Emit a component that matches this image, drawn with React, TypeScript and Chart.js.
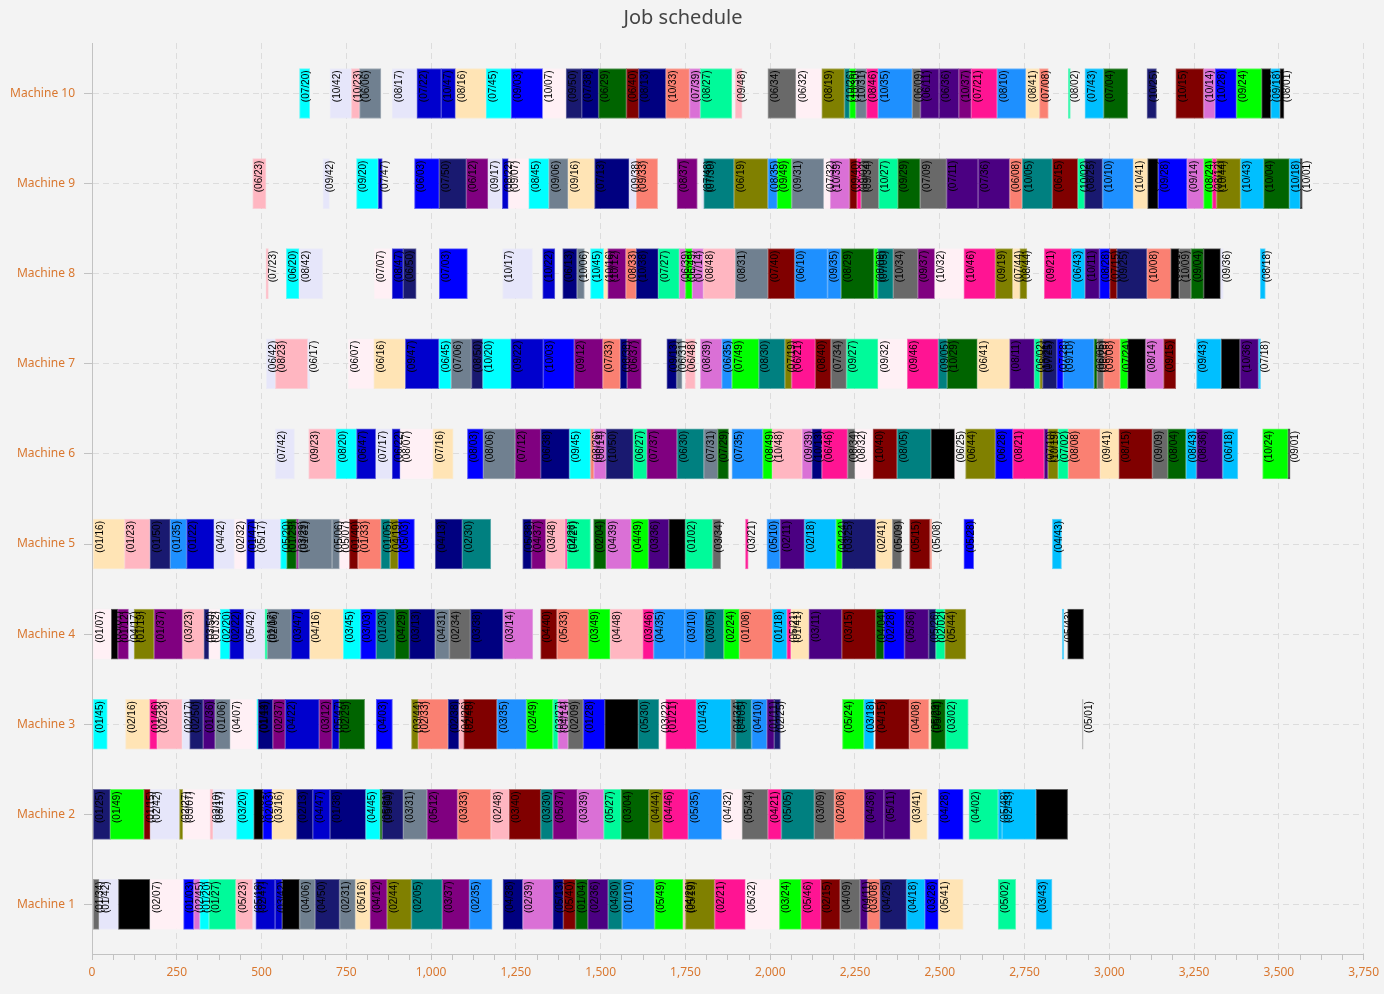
import React, { useEffect, useRef } from "react";
import { Chart, registerables } from "chart.js";
Chart.register(...registerables);

type Seg = [number, number, string];

const machineNames = ["Machine 1","Machine 2","Machine 3","Machine 4","Machine 5","Machine 6","Machine 7","Machine 8","Machine 9","Machine 10"];
const xMin = 0;
const xMax = 3750;
const xMajorStep = 250;
const xMinorStep = 62.5;

const PALETTE: Record<string, string> = {
  CY: "#00FFFF", LV: "#E6E6FA", LP: "#FFB6C1", SG: "#708090", MB: "#0000CD", BL: "#0000FF",
  MO: "#FFE4B5", LB: "#FFF0F5", MN: "#191970", NV: "#000080", DG: "#006400", MR: "#800000",
  SA: "#FA8072", OR: "#DA70D6", MS: "#00FA9A", DI: "#696969", OL: "#808000", TE: "#008080",
  LI: "#00FF00", DP: "#FF1493", DB: "#1E90FF", IN: "#4B0082", PU: "#800080", DS: "#00BFFF",
  BK: "#000000", GR: "#A9A9A9",
};

const m10: Seg[] = [
  [612,642,"(07/20)"],[702,765,"(10/42)"],[765,789,"(10/23)"],[789,852,"(06/06)"],[885,958,"(08/17)"],
  [958,1030,"(07/22)"],[1030,1072,"(10/47)"],[1072,1162,"(08/16)"],[1162,1236,"(07/45)"],[1236,1329,"(09/03)"],
  [1329,1398,"(10/07)"],[1398,1444,"(09/50)"],[1444,1494,"(07/38)"],[1494,1576,"(06/29)"],[1576,1612,"(06/40)"],
  [1612,1692,"(08/13)"],[1692,1762,"(10/33)"],[1762,1794,"(07/39)"],[1794,1887,"(08/27)"],[1897,1917,"(09/48)"],
  [1993,2076,"(06/34)"],[2076,2152,"(06/32)"],[2152,2219,"(08/19)"],[2219,2234,"(10/26)"],[2234,2252,"(10/30)"],
  [2252,2284,"(10/31)"],[2284,2318,"(08/46)"],[2318,2419,"(10/35)"],[2419,2443,"(06/09)"],[2443,2498,"(06/11)"],
  [2498,2556,"(06/36)"],[2556,2593,"(10/37)"],[2593,2669,"(07/21)"],[2669,2754,"(08/10)"],[2754,2794,"(08/41)"],
  [2794,2820,"(07/08)"],[2879,2885,"(08/02)"],[2928,2983,"(07/43)"],[2983,3054,"(07/04)"],[3111,3139,"(10/25)"],
  [3196,3278,"(10/15)"],[3278,3312,"(10/14)"],[3312,3375,"(10/28)"],[3375,3449,"(09/24)"],[3449,3476,"(09/26)"],
  [3476,3503,"(09/18)"],[3503,3515,"(08/01)"],
];
const m10Colors = ["CY","LV","LP","SG","LV","MB","MB","MO","CY","BL","LB","MN","NV","DG","MR","NV","SA","OR","MS","LP",
  "DI","LB","OL","TE","LI","SG","DP","DB","DI","IN","IN","PU","DP","DB","MO","SA","MS","DS","DG","MN",
  "MR","OR","BL","LI","BK","DS","BK"];

const m9: Seg[] = [
  [474,513,"(06/23)"],[681,700,"(09/42)"],[780,844,"(09/20)"],[844,856,"(07/47)"],[951,1024,"(06/03)"],
  [1024,1104,"(07/50)"],[1104,1168,"(06/12)"],[1168,1210,"(09/17)"],[1210,1228,"(08/22)"],[1228,1288,"(09/07)"],
  [1288,1347,"(08/45)"],[1347,1404,"(09/06)"],[1404,1482,"(09/16)"],[1482,1584,"(07/13)"],[1584,1605,"(09/38)"],
  [1605,1668,"(09/33)"],[1725,1785,"(08/37)"],[1798,1804,"(07/48)"],[1804,1893,"(07/30)"],[1893,1993,"(06/19)"],
  [1993,2021,"(08/35)"],[2021,2063,"(09/49)"],[2063,2158,"(09/31)"],[2158,2177,"(07/32)"],[2177,2234,"(10/39)"],
  [2234,2256,"(09/40)"],[2256,2268,"(09/02)"],[2268,2320,"(09/34)"],[2320,2376,"(10/27)"],[2376,2442,"(09/29)"],
  [2442,2520,"(07/09)"],[2520,2613,"(07/11)"],[2613,2706,"(07/36)"],[2706,2743,"(06/08)"],[2743,2832,"(10/05)"],
  [2832,2907,"(06/15)"],[2907,2927,"(10/02)"],[2927,2980,"(08/25)"],[2980,3071,"(10/10)"],[3071,3113,"(10/41)"],
  [3113,3144,"(09/44)"],[3144,3229,"(09/28)"],[3229,3278,"(09/14)"],[3278,3304,"(08/24)"],[3304,3316,"(08/12)"],
  [3316,3387,"(10/44)"],[3387,3455,"(10/43)"],[3455,3531,"(10/04)"],[3531,3563,"(10/18)"],[3563,3569,"(10/01)"],
];
const m9Colors = ["LP","LV","CY","MB","BL","MN","PU","LV","MB","LB","CY","SG","MO","NV","LV","SA","PU","LV","TE","OL",
  "DB","LI","SG","LB","OR","MR","DP","DI","MS","DG","DI","IN","IN","SA","TE","MR","MS","MN","DB","MO",
  "BK","BL","OR","LI","DP","OL","DS","DG","DS","BK"];

const m8: Seg[] = [
  [513,520,"(07/23)"],[573,611,"(06/20)"],[611,680,"(08/42)"],[832,885,"(07/07)"],[885,918,"(08/47)"],
  [918,956,"(06/50)"],[1024,1107,"(07/03)"],[1211,1299,"(10/17)"],[1329,1365,"(10/22)"],[1388,1430,"(06/13)"],
  [1430,1452,"(10/06)"],[1470,1509,"(10/45)"],[1509,1521,"(10/16)"],[1521,1574,"(10/12)"],[1574,1605,"(08/33)"],
  [1605,1670,"(10/38)"],[1670,1732,"(07/27)"],[1732,1750,"(06/39)"],[1750,1770,"(06/49)"],[1770,1803,"(07/14)"],
  [1803,1897,"(08/48)"],[1897,1993,"(08/31)"],[1993,2072,"(07/40)"],[2072,2169,"(06/10)"],[2169,2209,"(09/35)"],
  [2209,2306,"(08/29)"],[2306,2317,"(08/09)"],[2317,2363,"(07/05)"],[2363,2435,"(10/34)"],[2435,2485,"(09/37)"],
  [2485,2571,"(10/32)"],[2571,2664,"(10/46)"],[2664,2715,"(09/19)"],[2715,2736,"(07/44)"],[2736,2757,"(08/44)"],
  [2808,2888,"(09/21)"],[2888,2928,"(06/43)"],[2928,2971,"(10/11)"],[2971,3001,"(08/28)"],[3001,3022,"(07/15)"],
  [3022,3111,"(09/25)"],[3111,3181,"(10/08)"],[3181,3206,"(06/01)"],[3206,3241,"(10/09)"],[3241,3278,"(09/04)"],
  [3278,3328,"(07/01)"],[3328,3336,"(09/36)"],[3445,3460,"(08/18)"],
];
const m8Colors = ["LP","CY","LV","LB","MB","MN","BL","LV","MB","NV","SG","CY","MO","PU","SA","NV","MS","OR","LI","OR",
  "LP","SG","MR","DB","DB","DG","LI","TE","DI","PU","LB","DP","OL","MO","OL","DP","DS","IN","BL","MR",
  "MN","SA","BK","DI","DG","BK","LV","DS"];

const m7: Seg[] = [
  [514,541,"(06/42)"],[541,636,"(08/23)"],[636,642,"(06/17)"],[755,831,"(06/07)"],[831,924,"(06/16)"],
  [924,1023,"(09/47)"],[1023,1059,"(06/45)"],[1059,1119,"(07/06)"],[1119,1152,"(08/50)"],[1152,1235,"(10/20)"],
  [1235,1331,"(09/22)"],[1331,1422,"(10/03)"],[1422,1506,"(09/12)"],[1506,1558,"(07/33)"],[1558,1578,"(08/38)"],
  [1578,1620,"(06/37)"],[1695,1724,"(09/13)"],[1724,1740,"(06/31)"],[1750,1779,"(06/48)"],[1794,1857,"(08/39)"],
  [1857,1887,"(06/35)"],[1887,1966,"(07/49)"],[1966,2043,"(08/30)"],[2043,2063,"(07/19)"],[2063,2133,"(06/21)"],
  [2133,2179,"(08/40)"],[2179,2225,"(07/34)"],[2225,2318,"(09/27)"],[2318,2404,"(09/32)"],[2404,2496,"(09/46)"],
  [2496,2522,"(09/05)"],[2522,2611,"(10/29)"],[2611,2706,"(06/41)"],[2706,2779,"(08/11)"],[2779,2795,"(06/02)"],
  [2795,2803,"(10/21)"],[2803,2845,"(07/25)"],[2845,2864,"(07/28)"],[2864,2955,"(09/10)"],[2955,2964,"(06/05)"],
  [2964,2983,"(06/26)"],[2983,3032,"(09/08)"],[3032,3054,"(07/24)"],[3054,3107,"(07/46)"],[3107,3160,"(08/14)"],
  [3160,3196,"(09/15)"],[3257,3330,"(09/43)"],[3330,3385,"(10/49)"],[3385,3440,"(10/36)"],[3440,3446,"(07/18)"],
];
const m7Colors = ["LV","LP","LV","LB","MO","MB","CY","SG","MN","CY","MB","BL","PU","SA","NV","PU","NV","SG","LP","OR",
  "DB","LI","TE","OL","DP","MR","DI","MS","LB","DP","TE","DG","MO","IN","MS","OL","MN","BL","DB","DG",
  "DI","SA","LI","BK","OR","MR","DS","BK","IN","DS"];

const m6: Seg[] = [
  [541,597,"(07/42)"],[639,719,"(09/23)"],[719,780,"(08/20)"],[780,837,"(06/47)"],[837,885,"(07/17)"],
  [885,909,"(06/22)"],[909,1005,"(08/07)"],[1005,1065,"(07/16)"],[1107,1154,"(08/03)"],[1154,1248,"(08/06)"],
  [1248,1323,"(07/12)"],[1323,1408,"(06/38)"],[1408,1470,"(09/45)"],[1470,1480,"(08/26)"],[1480,1516,"(06/14)"],
  [1516,1596,"(10/50)"],[1596,1636,"(06/27)"],[1636,1725,"(07/37)"],[1725,1804,"(06/30)"],[1804,1845,"(07/31)"],
  [1845,1877,"(07/29)"],[1887,1978,"(07/35)"],[1978,2006,"(08/49)"],[2006,2094,"(10/48)"],[2094,2123,"(09/39)"],
  [2123,2152,"(10/13)"],[2152,2228,"(06/46)"],[2228,2250,"(08/34)"],[2250,2303,"(08/32)"],[2303,2374,"(10/40)"],
  [2374,2474,"(08/05)"],[2474,2544,"(09/30)"],[2544,2549,"(06/25)"],[2576,2664,"(06/44)"],[2664,2715,"(06/28)"],
  [2715,2808,"(08/21)"],[2808,2819,"(07/10)"],[2819,2849,"(10/19)"],[2849,2879,"(07/02)"],[2879,2973,"(08/08)"],
  [2973,3028,"(09/41)"],[3028,3127,"(08/15)"],[3127,3172,"(09/09)"],[3172,3226,"(08/04)"],[3226,3257,"(08/43)"],
  [3257,3334,"(08/36)"],[3334,3379,"(06/18)"],[3452,3527,"(10/24)"],[3527,3533,"(09/01)"],
];
const m6Colors = ["LV","LP","CY","MB","LV","MB","LB","MO","BL","SG","PU","NV","CY","SA","OR","MN","MS","PU","TE","SG",
  "DG","DB","LI","LP","OR","NV","DP","DI","LB","MR","TE","BK","LB","OL","BL","DP","IN","OL","MS","SA",
  "MO","MR","DI","DG","DS","IN","DS","LI","BK"];

const m5: Seg[] = [
  [4,96,"(01/16)"],[96,171,"(01/23)"],[171,231,"(01/50)"],[231,279,"(01/35)"],[279,360,"(01/22)"],
  [360,420,"(04/42)"],[420,456,"(02/32)"],[456,480,"(01/47)"],[480,556,"(05/17)"],[556,574,"(05/20)"],
  [574,603,"(01/29)"],[603,609,"(03/29)"],[609,708,"(01/31)"],[708,730,"(05/06)"],[730,759,"(05/07)"],
  [759,784,"(01/40)"],[784,852,"(01/33)"],[852,879,"(01/05)"],[879,903,"(04/19)"],[903,951,"(05/03)"],
  [1012,1092,"(04/13)"],[1092,1176,"(02/30)"],[1270,1296,"(05/38)"],[1296,1338,"(04/37)"],[1338,1396,"(03/48)"],
  [1396,1401,"(02/26)"],[1401,1470,"(04/27)"],[1479,1516,"(02/04)"],[1516,1590,"(04/39)"],[1590,1641,"(04/49)"],
  [1641,1701,"(03/36)"],[1701,1750,"(02/01)"],[1750,1830,"(01/02)"],[1830,1854,"(03/34)"],[1927,1935,"(03/21)"],
  [1990,2029,"(05/10)"],[2029,2101,"(02/11)"],[2101,2194,"(02/18)"],[2194,2212,"(04/24)"],[2212,2311,"(03/25)"],
  [2311,2360,"(02/41)"],[2360,2387,"(05/09)"],[2411,2471,"(05/15)"],[2471,2476,"(05/08)"],[2571,2600,"(05/28)"],
  [2832,2859,"(04/43)"],
];
const m5Colors = ["MO","LP","MN","DB","MB","LV","LB","MB","LV","CY","DG","PU","SG","SG","LB","MR","SA","TE","OL","BL",
  "NV","TE","NV","PU","LP","DP","MS","DG","OR","LI","IN","BK","MS","DI","DP","DB","IN","DS","LI","MN",
  "MO","DI","MR","SA","BL","DS"];

const m4: Seg[] = [
  [4,57,"(01/07)"],[57,76,"(03/01)"],[76,108,"(01/12)"],[108,124,"(04/17)"],[124,183,"(01/19)"],
  [183,267,"(01/37)"],[267,330,"(03/23)"],[330,345,"(03/50)"],[345,378,"(01/32)"],[378,406,"(02/20)"],
  [406,448,"(02/22)"],[448,510,"(05/42)"],[510,517,"(01/17)"],[517,588,"(02/06)"],[588,642,"(03/47)"],
  [642,741,"(04/16)"],[741,792,"(03/45)"],[792,838,"(03/03)"],[838,894,"(01/30)"],[894,936,"(04/29)"],
  [936,1012,"(03/13)"],[1012,1054,"(04/31)"],[1054,1116,"(02/34)"],[1116,1212,"(03/38)"],[1212,1300,"(03/14)"],
  [1323,1371,"(04/40)"],[1371,1464,"(05/33)"],[1464,1528,"(03/49)"],[1528,1624,"(04/48)"],[1624,1656,"(03/46)"],
  [1656,1748,"(04/35)"],[1748,1806,"(03/10)"],[1806,1863,"(03/05)"],[1863,1909,"(02/24)"],[1909,2006,"(01/08)"],
  [2006,2049,"(01/18)"],[2049,2061,"(05/21)"],[2061,2114,"(01/41)"],[2114,2211,"(03/11)"],[2211,2311,"(03/15)"],
  [2311,2335,"(04/04)"],[2335,2396,"(02/28)"],[2396,2467,"(05/36)"],[2467,2488,"(05/26)"],[2488,2515,"(02/02)"],
  [2515,2577,"(05/44)"],[2861,2866,"(05/43)"],[2877,2924,"(05/14)"],
];
const m4Colors = ["LB","BK","PU","LV","OL","PU","LP","MN","LB","CY","MB","LV","MS","SG","MB","MO","CY","BL","TE","DG",
  "NV","SG","DI","NV","OR","MR","SA","LI","LP","DP","DB","DB","TE","LI","SA","DS","DP","MO","IN","MR",
  "DG","BL","IN","MN","MS","OL","DS","BK"];

const m3: Seg[] = [
  [4,45,"(01/45)"],[99,170,"(02/16)"],[170,192,"(01/46)"],[192,266,"(02/23)"],[266,288,"(02/17)"],
  [288,328,"(02/50)"],[328,363,"(01/36)"],[363,408,"(01/06)"],[408,486,"(04/07)"],[486,490,"(01/44)"],
  [490,533,"(01/13)"],[533,570,"(02/37)"],[570,670,"(04/22)"],[670,708,"(03/12)"],[708,729,"(05/47)"],
  [729,804,"(02/29)"],[838,886,"(04/03)"],[942,962,"(03/44)"],[962,1050,"(02/33)"],[1050,1082,"(02/38)"],
  [1082,1096,"(04/26)"],[1096,1194,"(02/40)"],[1194,1281,"(03/35)"],[1281,1359,"(02/49)"],[1359,1374,"(03/27)"],
  [1374,1404,"(04/14)"],[1404,1449,"(02/09)"],[1449,1512,"(01/28)"],[1512,1611,"(02/46)"],[1611,1672,"(05/30)"],
  [1672,1692,"(03/22)"],[1692,1782,"(01/21)"],[1782,1884,"(01/43)"],[1884,1898,"(04/34)"],[1898,1945,"(04/05)"],
  [1945,1990,"(04/10)"],[1990,2012,"(01/11)"],[2012,2030,"(02/25)"],[2213,2276,"(05/24)"],[2276,2305,"(03/18)"],
  [2310,2410,"(04/15)"],[2410,2468,"(04/08)"],[2468,2474,"(05/29)"],[2474,2517,"(05/04)"],[2517,2584,"(03/02)"],
  [2920,2923,"(05/01)"],
];
const m3Colors = ["CY","MO","DP","LP","LV","MN","IN","SG","LB","CY","NV","PU","MB","PU","MB","DG","BL","OL","SA","NV",
  "LP","MR","DB","LI","MS","OR","DI","BL","BK","TE","LB","DP","DS","DI","TE","DB","IN","MN","LI","DS",
  "MR","SA","MO","DG","MS","GR"];

const m2: Seg[] = [
  [4,54,"(01/25)"],[54,153,"(01/49)"],[153,172,"(01/15)"],[172,258,"(02/42)"],[258,268,"(02/27)"],
  [268,348,"(03/07)"],[348,357,"(02/10)"],[357,426,"(03/17)"],[426,477,"(03/20)"],[477,504,"(04/01)"],
  [504,531,"(02/03)"],[531,603,"(03/16)"],[603,651,"(02/13)"],[651,702,"(04/47)"],[702,807,"(01/38)"],
  [807,849,"(04/45)"],[849,856,"(05/31)"],[856,918,"(05/50)"],[918,988,"(03/31)"],[988,1078,"(05/12)"],
  [1078,1176,"(03/33)"],[1176,1230,"(02/48)"],[1230,1323,"(03/40)"],[1323,1359,"(03/30)"],[1359,1431,"(05/37)"],
  [1431,1509,"(03/39)"],[1509,1560,"(05/27)"],[1560,1642,"(03/04)"],[1642,1683,"(04/44)"],[1683,1758,"(04/46)"],
  [1758,1857,"(05/35)"],[1857,1917,"(04/32)"],[1917,1993,"(05/34)"],[1993,2033,"(04/21)"],[2033,2130,"(05/05)"],
  [2130,2189,"(03/09)"],[2189,2277,"(02/08)"],[2277,2335,"(04/36)"],[2335,2413,"(05/11)"],[2413,2463,"(03/41)"],
  [2496,2569,"(04/28)"],[2586,2672,"(04/02)"],[2672,2684,"(05/48)"],[2684,2784,"(02/43)"],[2784,2877,"(03/26)"],
];
const m2Colors = ["MN","LI","MR","LV","OL","LB","LP","LV","CY","BK","BL","MO","NV","MB","NV","CY","DG","MN","SG","PU",
  "SA","LP","MR","TE","PU","OR","MS","DG","OL","DP","DB","LB","DI","DP","TE","DI","SA","IN","IN","MO",
  "BL","MS","DS","DS","BK"];

const m1: Seg[] = [
  [4,21,"(01/34)"],[21,78,"(01/42)"],[78,171,"(02/14)"],[171,270,"(02/07)"],[270,300,"(01/03)"],
  [300,318,"(02/45)"],[318,345,"(01/20)"],[345,424,"(01/27)"],[424,474,"(05/23)"],[474,483,"(05/18)"],
  [483,540,"(02/47)"],[540,561,"(03/42)"],[561,612,"(04/23)"],[612,658,"(04/06)"],[658,730,"(04/50)"],
  [730,777,"(02/31)"],[777,820,"(05/16)"],[820,870,"(04/12)"],[870,942,"(02/44)"],[942,1033,"(02/05)"],
  [1033,1113,"(03/37)"],[1113,1180,"(02/35)"],[1212,1270,"(04/38)"],[1270,1359,"(02/39)"],[1359,1390,"(05/13)"],
  [1390,1426,"(05/40)"],[1426,1462,"(01/04)"],[1462,1522,"(02/36)"],[1522,1563,"(04/30)"],[1563,1659,"(01/10)"],
  [1659,1743,"(05/49)"],[1743,1750,"(04/20)"],[1750,1836,"(05/19)"],[1836,1927,"(02/21)"],[1927,2027,"(05/32)"],
  [2027,2091,"(03/24)"],[2091,2149,"(05/46)"],[2149,2206,"(02/15)"],[2206,2265,"(04/09)"],[2265,2287,"(04/11)"],
  [2287,2323,"(03/08)"],[2323,2402,"(04/25)"],[2402,2456,"(04/18)"],[2456,2496,"(03/28)"],[2496,2569,"(05/41)"],
  [2672,2724,"(05/02)"],[2784,2831,"(03/43)"],
];
const m1Colors = ["DI","LV","BK","LB","BL","OR","CY","MS","LP","LV","MB","MB","BK","SG","MN","SG","MO","PU","OL","TE",
  "PU","DB","NV","OR","NV","MR","DG","IN","TE","DB","LI","LP","OL","DP","LB","LI","DP","MR","DI","IN",
  "SA","MN","DS","BL","MO","MS","DS"];

const machineSegs: Seg[][] = [m1, m2, m3, m4, m5, m6, m7, m8, m9, m10];
const machineColors: string[][] = [m1Colors, m2Colors, m3Colors, m4Colors, m5Colors, m6Colors, m7Colors, m8Colors, m9Colors, m10Colors];

const ORANGE = "#D9772F";
const GRID = "#dcdcdc";
const AXIS = "#c2c2c2";

function hexAlpha(hex: string, a: string) {
  return hex + a;
}

const barLabelPlugin = {
  id: "barLabels",
  afterDatasetsDraw(chart: any) {
    const ctx = chart.ctx;
    const meta = chart.getDatasetMeta(0);
    const labels: string[] = chart.data.datasets[0].segLabels;
    ctx.save();
    ctx.font = "10px 'Liberation Sans', Arial, sans-serif";
    ctx.fillStyle = "#000";
    ctx.textAlign = "right";
    ctx.textBaseline = "top";
    meta.data.forEach((el: any, i: number) => {
      const p = el.getProps(["x", "base", "y", "height"], true);
      const left = Math.min(p.x, p.base);
      const top = p.y - p.height / 2;
      ctx.save();
      ctx.translate(left + 2, top + 2);
      ctx.rotate(-Math.PI / 2);
      ctx.fillText(labels[i], 0, 0);
      ctx.restore();
    });
    ctx.restore();
  },
};

export default function App() {
  const ref = useRef<HTMLCanvasElement | null>(null);
  useEffect(() => {
    document.body.style.margin = "0";
    document.body.style.background = "#f3f3f3";
    const points: any[] = [];
    const bg: string[] = [];
    const bc: string[] = [];
    const labels: string[] = [];
    machineSegs.forEach((segs, mi) => {
      segs.forEach((s, si) => {
        points.push({ x: [s[0], s[1]], y: mi + 1 });
        const col = PALETTE[machineColors[mi][si]] || "#888888";
        bg.push(col);
        bc.push(hexAlpha(col, "99"));
        labels.push(s[2]);
      });
    });
    const chart = new Chart(ref.current as HTMLCanvasElement, {
      type: "bar",
      data: {
        datasets: [
          {
            data: points,
            backgroundColor: bg,
            borderColor: bc,
            borderWidth: 1,
            borderSkipped: false,
            barThickness: 50,
            grouped: false,
            segLabels: labels,
          } as any,
        ],
      },
      options: {
        indexAxis: "y",
        animation: false,
        responsive: false,
        layout: { padding: { left: 0, right: 18, top: 0, bottom: 0 } },
        plugins: {
          legend: { display: false },
          tooltip: { enabled: false },
          title: {
            display: true,
            text: "Job schedule",
            color: "#444444",
            font: { family: "'Noto Sans', sans-serif", size: 20, weight: "normal" },
            padding: { top: 6, bottom: 13 },
          },
        },
        scales: {
          x: {
            type: "linear",
            min: xMin,
            max: xMax,
            offset: false,
            ticks: {
              stepSize: xMinorStep,
              autoSkip: false,
              maxRotation: 0,
              padding: 5,
              color: ORANGE,
              font: { family: "'Noto Sans', sans-serif", size: 12 },
              callback: (v: any) => (Number(v) % xMajorStep === 0 ? Number(v).toLocaleString("en-US") : ""),
            },
            grid: {
              offset: false,
              color: (c: any) => (c.tick && c.tick.value % xMajorStep === 0 && c.tick.value !== 0 ? GRID : "rgba(0,0,0,0)"),
              tickColor: AXIS,
              tickLength: 6,
              tickBorderDash: [],
            } as any,
            border: { color: AXIS, dash: [6, 4] },
            afterFit: (s: any) => {
              s.height = 40;
            },
          } as any,
          y: {
            type: "linear",
            min: 0.45,
            max: 10.56,
            offset: false,
            ticks: {
              stepSize: 1,
              includeBounds: false,
              padding: 9,
              color: ORANGE,
              font: { family: "'Noto Sans', sans-serif", size: 12 },
              callback: (v: any) => (Number.isInteger(Number(v)) ? machineNames[Number(v) - 1] : ""),
            },
            grid: {
              offset: false,
              color: GRID,
              tickColor: AXIS,
              tickLength: 8,
              tickBorderDash: [],
            } as any,
            border: { color: AXIS, dash: [6, 4] },
            afterFit: (s: any) => {
              s.width = 92;
            },
          } as any,
        },
      },
      plugins: [barLabelPlugin],
    } as any);
    return () => chart.destroy();
  }, []);
  return (
    <div style={{ width: 1384, height: 994, background: "#f3f3f3" }}>
      <canvas ref={ref} width={1384} height={994} style={{ display: "block" }} />
    </div>
  );
}
